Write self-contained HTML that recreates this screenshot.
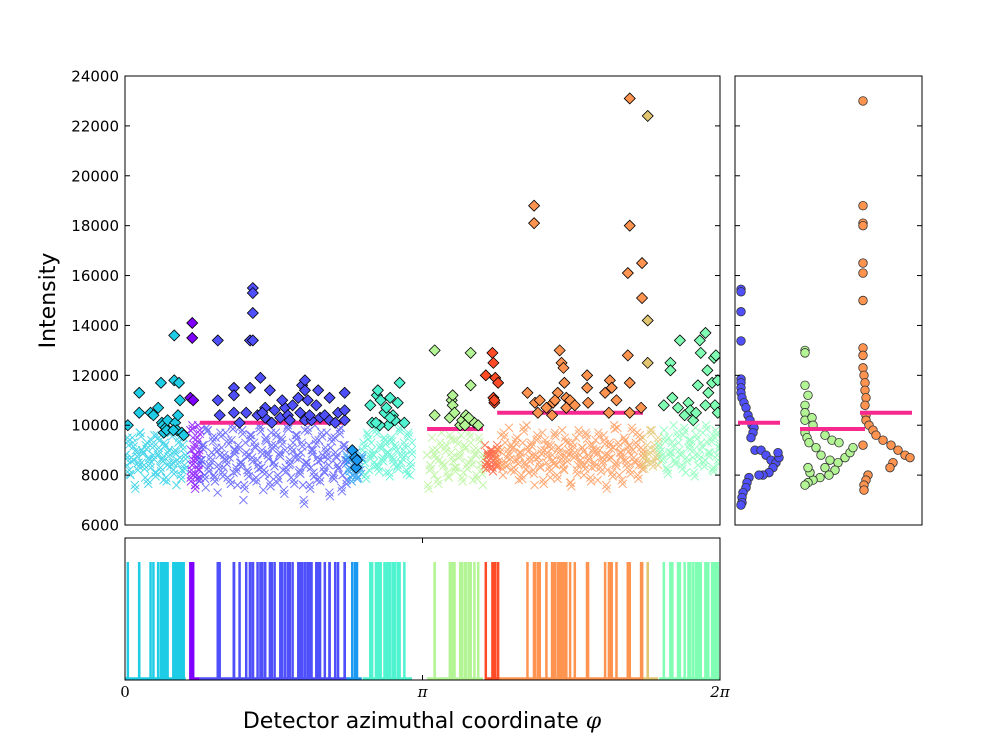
<!DOCTYPE html>
<html><head><meta charset="utf-8">
<style>
html,body{margin:0;padding:0;background:#fff;}
svg{display:block;font-family:"DejaVu Sans","Liberation Sans",sans-serif;}
</style></head>
<body>
<svg id="chart" width="997" height="755" viewBox="0 0 997 755" xmlns="http://www.w3.org/2000/svg"></svg>
<script>
// ---- data ----
const segNames = ["cyan","purple","blue","dodger","aqua","green","red","orange","tan","mint"];
const segColors = ["#1ecde5","#8000ff","#4f50fc","#1a98f2","#4ff3cf","#b3f495","#ff4c27","#ff9350","#e2c570","#80ffb4"];
const segStart = [0.00,0.69,0.79,2.34,2.51,3.19,3.80,3.93,5.47,5.64];
const segEnd   = [0.64,0.79,2.34,2.50,3.03,3.78,3.93,5.47,5.63,6.28];

const crossCyan = [88,84,92,80,95,86,90,82,97,85,89,79,93,87,83,91,96,81,88,94,86,78,92,84,90,97,85,89,76,93,87,82,95,88];
const crossPurple = [98,90,84,95,80,88,76,92,86,100,82,79];
const crossBlue = [78,86,92,75,98,84,89,80,95,73,88,91,83,97,79,87,94,81,90,76,99,85,70,93,82,88,96,78,91,86,100,83,74,94,89,80,97,85,92,77,88,95,82,90,99,84,79,93,87,96,81,89,76,98,85,92,83,90,100,78,94,86,88,81,97,84,91,79,95,87,83,99,80,92,86];
const crossDodger = [88,82,86,80,84,89,79,83,87];
const crossAqua = [90,85,97,82,93,88,99,84,91,86,95,81,89,94,87,92,83,98,85,90,88,96,80,93];
const crossGreen = [88,82,95,80,90,86,97,84,92,79,89,94,83,87,96,81,91,85,93,78,88,90,84,76];
const crossRed = [92,85,88,83,90,86,89,84];
const crossOrange = [90,84,96,80,93,87,99,82,91,86,95,78,89,93,85,100,81,92,88,76,94,87,83,97,90,85,92,79,88,96,84,91,86,98,82,89,93,77,90,87,95,84,88,91,80,97,86,92,83,89,94,78,90,85,96,88,82,93,87,91,84,99,80,89,86,94,83,92,88,90,85,97,84,91,87];
const crossTan = [95,88,92,85,98,90,87,84];
const crossMint = [92,86,98,83,95,89,100,85,93,88,96,81,91,94,87,99,84,90,97,86,93,89,82,95,88,91];
const crossSets = [crossCyan,crossPurple,crossBlue,crossDodger,crossAqua,crossGreen,crossRed,crossOrange,crossTan,crossMint];

const diaCyan = [[0.03,10000],[0.15,11300],[0.15,10500],[0.27,10500],[0.30,10400],[0.35,10700],[0.38,11700],[0.39,10100],[0.40,10000],[0.41,9700],[0.43,9900],[0.44,9800],[0.45,10200],[0.52,13600],[0.52,11800],[0.53,10100],[0.55,9800],[0.56,10400],[0.57,11700],[0.58,11000],[0.60,9700],[0.62,9600],[0.51,9800]];
const diaPurple = [[0.71,14100],[0.71,13500],[0.69,11100],[0.72,11000]];
const diaBlue = [[0.98,13400],[1.00,10400],[0.98,11000],[1.15,11500],[1.15,10500],[1.15,11200],[1.32,13400],[1.35,13400],[1.35,15500],[1.35,15300],[1.35,14500],[1.32,11500],[1.43,11900],[1.48,10300],[1.48,10700],[1.53,11400],[1.58,10600],[1.64,10300],[1.69,10700],[1.72,10400],[1.77,10800],[1.83,11100],[1.85,10500],[1.90,10200],[1.93,11000],[1.87,11600],[1.90,11800],[1.90,11400],[1.97,10200],[2.02,10800],[2.04,11400],[2.06,10300],[2.11,10400],[2.16,10200],[2.16,11100],[2.25,10500],[2.32,10200],[2.32,11300],[2.32,10600],[1.21,10100],[1.28,10500],[1.40,10400],[1.55,10100],[1.74,10200],[1.95,10400],[2.22,10100],[1.66,11000],[1.45,10500]];
const diaDodger = [[2.40,9000],[2.43,8700],[2.44,8300],[2.45,8600]];
const diaAqua = [[2.59,10800],[2.61,10100],[2.66,11200],[2.67,11400],[2.70,11000],[2.74,10500],[2.76,10700],[2.78,10000],[2.80,11100],[2.83,10400],[2.85,10200],[2.88,10900],[2.90,11700],[2.95,10100],[2.69,10000],[2.80,10300],[2.65,10100]];
const diaGreen = [[3.27,13000],[3.27,10400],[3.43,10300],[3.45,11000],[3.46,11200],[3.46,10800],[3.48,10500],[3.54,10000],[3.56,10200],[3.60,10400],[3.65,12900],[3.65,11600],[3.69,10100],[3.63,10300],[3.73,10000],[3.59,10000]];
const diaRed = [[3.81,12000],[3.88,12900],[3.89,12500],[3.91,11900],[3.89,11100],[3.90,10900],[3.90,11000],[3.94,11700]];
const diaOrange = [[4.25,11300],[4.33,10900],[4.36,10500],[4.38,11000],[4.45,10700],[4.51,10400],[4.52,10900],[4.57,11300],[4.59,13000],[4.61,12500],[4.63,12300],[4.64,11700],[4.66,11100],[4.66,10700],[4.70,11000],[4.75,10800],[4.88,12000],[4.88,11500],[4.89,10900],[5.07,11300],[5.12,11800],[5.14,11500],[5.11,10500],[5.19,11000],[5.31,12800],[5.33,11700],[5.33,10500],[5.45,10700],[5.33,23100],[5.33,18000],[5.31,16100],[5.46,16500],[5.46,15100],[4.32,18800],[4.32,18100],[4.54,11000]];
const diaTan = [[5.52,22400],[5.52,14200],[5.52,12500]];
const diaMint = [[5.69,10800],[5.76,12500],[5.76,12200],[5.78,11100],[5.86,13400],[5.84,10700],[5.91,10400],[5.95,10900],[5.97,10600],[6.00,10200],[6.07,13400],[6.08,12900],[6.13,13700],[6.15,12200],[6.16,11300],[6.20,11700],[6.22,12700],[6.24,12800],[6.23,10800],[6.26,11800],[6.26,10500],[6.05,11600],[6.03,10500],[6.13,10800]];
const diaSets = [diaCyan,diaPurple,diaBlue,diaDodger,diaAqua,diaGreen,diaRed,diaOrange,diaTan,diaMint];

const meanSeg = [2,5,7];
const meanVals = [10100,9850,10500];

const sideBlue = [[0,15450],[0,15350],[0,14550],[0,13380],[0,11850],[0,11700],[0,11500],[0,11300],[1,11100],[3,10900],[5,10700],[7,10400],[9,10200],[11,10000],[13,9900],[12,9700],[10,9500],[14,9000],[20,9000],[25,8800],[30,8600],[35,8500],[38,8700],[37,8900],[32,8300],[28,8100],[22,8000],[18,8000],[8,7900],[6,7700],[5,7500],[2,7300],[1,7100],[1,6900],[0,6800]];
const sideGreen = [[0,13000],[0,12900],[0,11600],[3,11200],[0,10800],[0,10500],[0,10200],[7,10300],[8,10000],[0,9700],[2,9500],[4,9300],[11,9100],[20,9600],[27,9400],[34,9300],[16,8800],[25,8600],[33,8500],[40,8700],[45,8900],[48,9100],[20,8300],[30,8200],[24,8000],[15,7900],[8,7800],[3,7700],[0,7600],[5,8100],[3,8300]];
const sideOrange = [[0,23000],[0,18800],[0,18100],[0,18000],[0,16500],[0,16100],[0,15000],[0,13100],[0,12800],[0,12300],[1,12000],[2,11700],[2,11400],[3,11100],[2,10800],[3,10400],[3,10200],[6,10000],[10,9800],[13,9600],[20,9400],[28,9200],[35,9000],[42,8800],[47,8700],[30,8500],[27,8300],[5,8000],[3,7800],[1,7600],[1,7400],[0,9200]];
const sideSets = [sideBlue,sideGreen,sideOrange];
const sideSeg = [2,5,7];

const yTicks = [6000,8000,10000,12000,14000,16000,18000,20000,22000,24000];

// ---- layout / scales ----
const NS="http://www.w3.org/2000/svg";
const svg=document.getElementById('chart');
const M={l:125,r:720,t:76,b:525};
const B={t:538,b:680};
const S={l:735,r:922};
const xS=p=>M.l+(p/(2*Math.PI))*(M.r-M.l);
const yS=v=>M.b-(v-6000)/(24000-6000)*(M.b-M.t);
const sideX=[741,805,863];
const sideMean=[[738,780],[800,865],[860,912]];
function mk(tag,attrs,parent){const e=document.createElementNS(NS,tag);for(const k in attrs)e.setAttribute(k,attrs[k]);(parent||svg).appendChild(e);return e;}

const defs=mk('defs',{});
const cp=mk('clipPath',{id:'mainclip'},defs);mk('rect',{x:M.l,y:M.t,width:M.r-M.l,height:M.b-M.t},cp);
const main=mk('g',{'clip-path':'url(#mainclip)'});



// crosses (three passes over each series for cloud density)
crossSets.forEach((vals,si)=>{
  const g=mk('g',{stroke:segColors[si],'stroke-width':1,opacity:0.8},main);
  
  
  const n=vals.length;
  const w=segEnd[si]-segStart[si];
  [0,1,2].forEach(pass=>{
    vals.forEach((_,i)=>{
      const v = pass===0 ? vals[i] : vals[n-1-i];
      const f = n>1 ? Math.min(1,(i + pass/3)/(n-1)) : 0.5;
      const p=segStart[si]+w*f;
      const x=xS(p),y=yS(v*100 + (pass===2?-150:0));
      const pth=mk('path',{d:`M${x-4},${y-4}L${x+4},${y+4}M${x-4},${y+4}L${x+4},${y-4}`},g);
      
      
    });
  });
});
meanSeg.forEach((si,k)=>{
  const l=mk('line',{x1:xS(segStart[si]),x2:xS(segEnd[si]),y1:yS(meanVals[k]),y2:yS(meanVals[k]),stroke:'#f7298f','stroke-width':4},main);
  
  
});
diaSets.forEach((pts,si)=>{
  const g=mk('g',{fill:segColors[si],stroke:'#000','stroke-width':0.8},main);
  
  
  pts.forEach(([p,v])=>{
    const x=xS(p),y=yS(v);
    const d=mk('path',{d:`M${x},${y-5.5}L${x+5.5},${y}L${x},${y+5.5}L${x-5.5},${y}Z`},g);
    
    
  });
});
const fr=mk('rect',{x:M.l,y:M.t,width:M.r-M.l,height:M.b-M.t,fill:'none',stroke:'#000','stroke-width':1});


yTicks.forEach(t=>{
  const y=yS(t);
  mk('line',{x1:M.l,x2:M.l+5,y1:y,y2:y,stroke:'#000'});
  mk('line',{x1:M.r,x2:M.r-5,y1:y,y2:y,stroke:'#000'});
  const tx=mk('text',{x:M.l-6,y:y+5.5,'text-anchor':'end','font-size':15});
  tx.textContent=t;
  
  
});
const yt=mk('text',{x:0,y:0,'font-size':22,'text-anchor':'middle',transform:`translate(55,${(M.t+M.b)/2}) rotate(-90)`});
yt.textContent='Intensity';



// bottom panel
const bot=mk('g',{});


segStart.forEach((s,si)=>{
  const l=mk('line',{x1:xS(s),x2:xS(segEnd[si]),y1:B.b-1.5,y2:B.b-1.5,stroke:segColors[si],'stroke-width':2.5},bot);
  
  
});
diaSets.forEach((pts,si)=>{
  pts.forEach(([p])=>{
    const l=mk('line',{x1:xS(p),x2:xS(p),y1:B.b,y2:562,stroke:segColors[si],'stroke-width':2.5},bot);
    
    
  });
});
const bf=mk('rect',{x:M.l,y:B.t,width:M.r-M.l,height:B.b-B.t,fill:'none',stroke:'#000'});


[[0,'0'],[Math.PI,'π'],[2*Math.PI,'2π']].forEach(([p,lab])=>{
  const x=xS(p);
  mk('line',{x1:x,x2:x,y1:B.b,y2:B.b-5,stroke:'#000'});
  mk('line',{x1:x,x2:x,y1:B.t,y2:B.t+5,stroke:'#000'});
  const tx=mk('text',{x:x,y:B.b+17,'text-anchor':'middle','font-size':15,'font-family':'"DejaVu Serif","Liberation Serif",serif','font-style':lab==='0'?'normal':'italic'});
  tx.textContent=lab;
  
  
});
const xt=mk('text',{x:422,y:728,'text-anchor':'middle','font-size':22});
xt.innerHTML='Detector azimuthal coordinate <tspan font-family="DejaVu Serif, serif" font-style="italic">φ</tspan>';



// side panel
const side=mk('g',{});


sideSets.forEach((pts,k)=>{
  const si=sideSeg[k];
  pts.forEach(([dx,v])=>{
    const c=mk('circle',{cx:sideX[k]+dx,cy:yS(v),r:4.3,fill:segColors[si],stroke:'#333','stroke-width':0.8},side);
    
    
  });
  const l=mk('line',{x1:sideMean[k][0],x2:sideMean[k][1],y1:yS(meanVals[k]),y2:yS(meanVals[k]),stroke:'#f7298f','stroke-width':4},side);
  
  
});
const sf=mk('rect',{x:S.l,y:M.t,width:S.r-S.l,height:M.b-M.t,fill:'none',stroke:'#000'});


yTicks.forEach(t=>{
  const y=yS(t);
  mk('line',{x1:S.l,x2:S.l+5,y1:y,y2:y,stroke:'#000'});
  mk('line',{x1:S.r,x2:S.r-5,y1:y,y2:y,stroke:'#000'});
});
</script>
</body></html>
